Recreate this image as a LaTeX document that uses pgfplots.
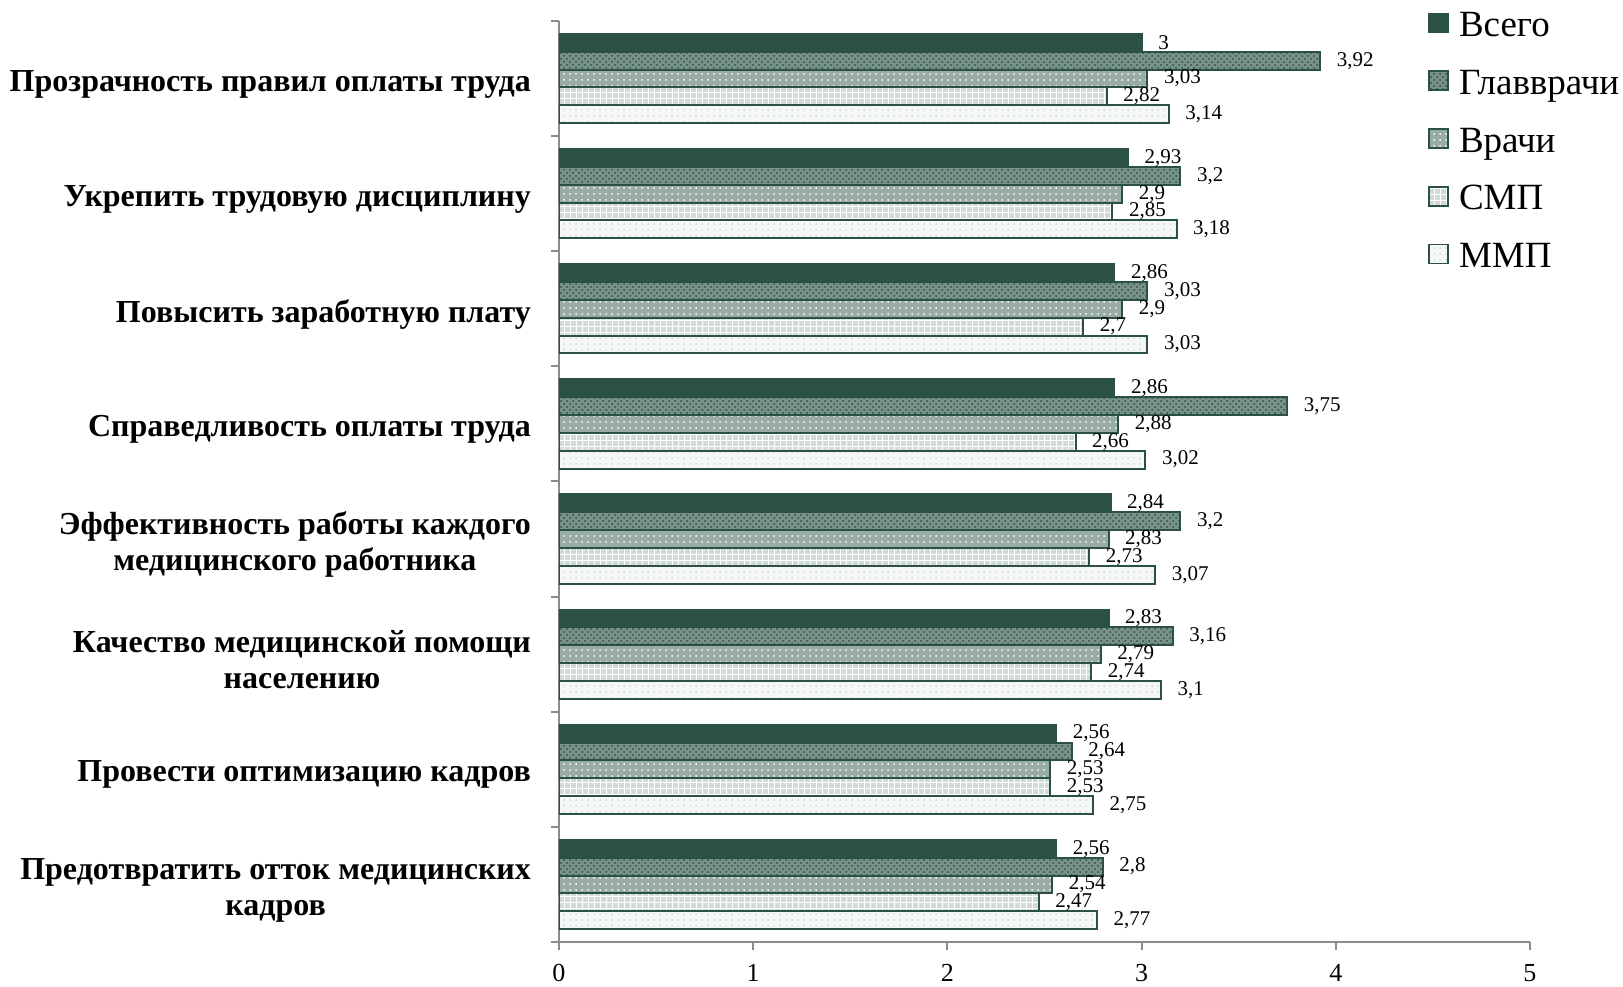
\documentclass[border=0pt]{standalone}
\usepackage{fontspec}
\setmainfont{Liberation Serif}
\usepackage{pgfplots}
\pgfplotsset{compat=1.18}
\usetikzlibrary{patterns}
\definecolor{dkgreen}{RGB}{43,80,70}
\definecolor{cgv}{RGB}{120,146,137}
\definecolor{cvr}{RGB}{152,172,165}
\definecolor{csmp}{RGB}{208,218,214}
\definecolor{cmmp}{RGB}{246,248,247}
\definecolor{axgray}{RGB}{140,140,140}
\begin{document}
\begin{tikzpicture}
\path[use as bounding box] (-279.5pt,-22pt) rectangle (532pt,471pt);
\begin{axis}[
  at={(0,0)}, anchor=south west,
  scale only axis, width=485.5pt, height=460.5pt,
  xbar, bar width=0.155,
  xmin=0, xmax=5, ymin=-0.5, ymax=7.5,
  axis lines*=left,
  axis line style={axgray, line width=1pt, -},
  xtick={0,1,2,3,4,5},
  ytick={0,1,2,3,4,5,6,7},
  yticklabels={
    {Предотвратить отток медицинских\\кадров},
    {Провести оптимизацию кадров},
    {Качество медицинской помощи\\населению},
    {Эффективность работы каждого\\медицинского работника},
    {Справедливость оплаты труда},
    {Повысить заработную плату},
    {Укрепить трудовую дисциплину},
    {Прозрачность правил оплаты труда}},
  minor ytick={-0.5,0.5,1.5,2.5,3.5,4.5,5.5,6.5,7.5},
  tick align=outside,
  major tick length=4pt, minor tick length=4pt,
  tick style={axgray, line width=1pt},
  major y tick style={draw=none},
  yticklabel style={align=center, font=\fontsize{16}{18}\selectfont\bfseries, xshift=-6.5pt, yshift=-2.8pt},
  xticklabel style={font=\fontsize{13}{15}\selectfont, yshift=-3.5pt},
  /pgf/number format/assume math mode=true,
  point meta=x,
  nodes near coords,
  nodes near coords style={font=\fontsize{10.5}{12}\selectfont, anchor=west, xshift=4.5pt,
     /pgf/number format/use comma, /pgf/number format/assume math mode=true},
  every axis plot/.append style={draw=dkgreen, line width=1pt},
  legend style={at={(0,1)}, anchor=north west, xshift=434.5pt, yshift=5.4pt,
     draw=none, fill=none, inner sep=0pt, row sep=12.1pt,
     font=\fontsize{18.5}{20}\selectfont,
     nodes={inner sep=0pt, text height=13pt, text depth=3.8pt},
     cells={anchor=west}},
  legend image code/.code={\draw[#1, line width=0.8pt] (0pt,-2.5pt) rectangle (9.5pt,7pt);},
  legend cell align=left,
]
\addplot[fill=dkgreen, bar shift=0.31] coordinates {
 (2.56,0) (2.56,1) (2.83,2) (2.84,3) (2.86,4) (2.86,5) (2.93,6) (3,7)};
\addlegendentry{\hspace{5pt}Всего}
\addplot[fill=cgv, postaction={pattern=crosshatch dots, pattern color=dkgreen}, bar shift=0.155] coordinates {
 (2.8,0) (2.64,1) (3.16,2) (3.2,3) (3.75,4) (3.03,5) (3.2,6) (3.92,7)};
\addlegendentry{\hspace{5pt}Главврачи}
\addplot[fill=cvr, postaction={pattern=dots, pattern color=white}, bar shift=0] coordinates {
 (2.54,0) (2.53,1) (2.79,2) (2.83,3) (2.88,4) (2.9,5) (2.9,6) (3.03,7)};
\addlegendentry{\hspace{5pt}Врачи}
\addplot[fill=csmp, postaction={pattern=grid, pattern color=white}, bar shift=-0.155] coordinates {
 (2.47,0) (2.53,1) (2.74,2) (2.73,3) (2.66,4) (2.7,5) (2.85,6) (2.82,7)};
\addlegendentry{\hspace{5pt}СМП}
\addplot[fill=cmmp, postaction={pattern=dots, pattern color=csmp}, bar shift=-0.31] coordinates {
 (2.77,0) (2.75,1) (3.1,2) (3.07,3) (3.02,4) (3.03,5) (3.18,6) (3.14,7)};
\addlegendentry{\hspace{5pt}ММП}
\end{axis}
\end{tikzpicture}
\end{document}
